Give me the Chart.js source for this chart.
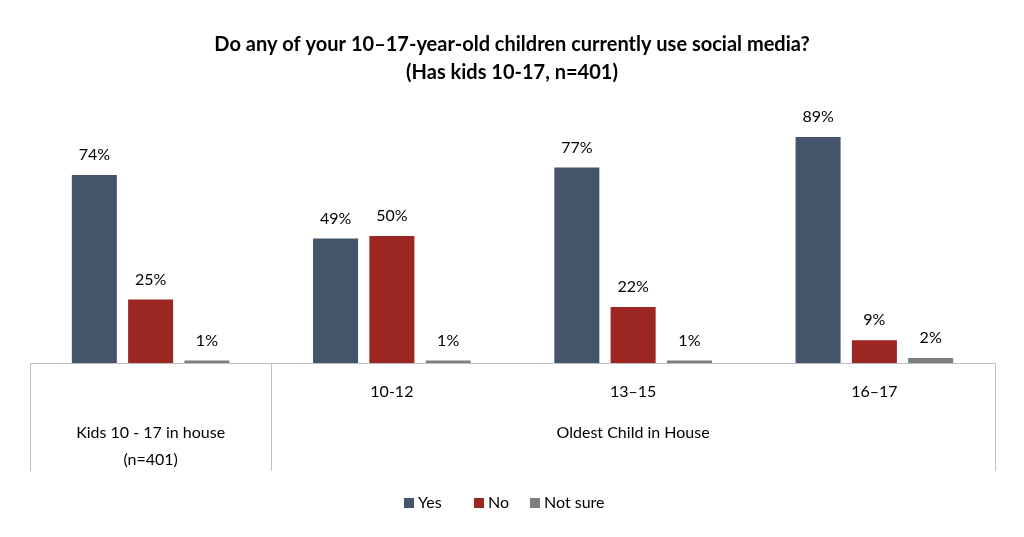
<!DOCTYPE html>
<html><head><meta charset="utf-8">
<script src="https://cdn.jsdelivr.net/npm/chart.js@4/dist/chart.umd.min.js"></script>
<style>html,body{margin:0;padding:0;background:#fff}#w{width:1024px;height:537px}</style>
</head><body><div id="w"><canvas id="c"></canvas></div>
<script>
const categories = ["Kids 10 - 17 in house\n(n=401)", "10-12", "13–15", "16–17"];
const yesValues = [74, 49, 77, 89];
const noValues = [25, 50, 22, 9];
const notSureValues = [1, 1, 1, 2];
const seriesNames = ["Yes", "No", "Not sure"];
const colors = ["#44546A", "#9B2622", "#7F7F7F"];
const FONT = "Lato, 'Open Sans', sans-serif";

const deco = {
  id: 'deco',
  afterDraw(chart) {
    const ctx = chart.ctx, a = chart.chartArea, x = chart.scales.x;
    ctx.save();
    // title
    ctx.fillStyle = '#000'; ctx.textAlign = 'center'; ctx.textBaseline = 'middle';
    ctx.font = 'bold 20px ' + FONT;
    ctx.fillText('Do any of your 10–17-year-old children currently use social media?', 512, 45);
    ctx.fillText('(Has kids 10-17, n=401)', 512, 73);
    // value labels
    ctx.font = '16px ' + FONT;
    chart.data.datasets.forEach((ds, i) => {
      chart.getDatasetMeta(i).data.forEach((b, j) => {
        ctx.fillText(ds.data[j] + '%', b.x, b.y - 20);
      });
    });
    // axis box
    ctx.strokeStyle = '#BFBFBF'; ctx.lineWidth = 1;
    const half = (x.getPixelForValue(1) - x.getPixelForValue(0)) / 2;
    const b0 = x.getPixelForValue(0) - half, b1 = x.getPixelForValue(0) + half, b2 = x.getPixelForValue(3) + half;
    ctx.beginPath();
    ctx.moveTo(a.left, a.bottom + 0.5); ctx.lineTo(a.right, a.bottom + 0.5);
    [b0, b1, b2].forEach(p => { ctx.moveTo(Math.round(p) + 0.5, a.bottom); ctx.lineTo(Math.round(p) + 0.5, a.bottom + 108); });
    ctx.stroke();
    // category labels
    ctx.fillStyle = '#000'; ctx.font = '16px ' + FONT;
    for (let j = 1; j < 4; j++) ctx.fillText(categories[j], x.getPixelForValue(j), a.bottom + 29);
    const l0 = categories[0].split('\n');
    ctx.fillText(l0[0], x.getPixelForValue(0), a.bottom + 70);
    ctx.fillText(l0[1], x.getPixelForValue(0), a.bottom + 97);
    ctx.fillText('Oldest Child in House', (b1 + b2) / 2, a.bottom + 70);
    // legend
    const items = [[404, 0], [474, 1], [530, 2]];
    ctx.textAlign = 'left';
    items.forEach(([lx, i]) => {
      ctx.fillStyle = colors[i]; ctx.fillRect(lx, 498, 10, 10);
      ctx.fillStyle = '#000'; ctx.fillText(seriesNames[i], lx + 14, 503);
    });
    ctx.restore();
  }
};

new Chart(document.getElementById('c'), {
  type: 'bar',
  data: {
    labels: categories,
    datasets: [
      { label: seriesNames[0], data: yesValues, backgroundColor: colors[0] },
      { label: seriesNames[1], data: noValues, backgroundColor: colors[1] },
      { label: seriesNames[2], data: notSureValues, backgroundColor: colors[2] }
    ]
  },
  options: {
    responsive: true, maintainAspectRatio: false, animation: false,
    layout: { padding: { top: 109, bottom: 174, left: 30, right: 29 } },
    datasets: { bar: { categoryPercentage: 0.7, barPercentage: 0.8 } },
    scales: {
      x: { display: false },
      y: { display: false, min: 0, max: 100 }
    },
    plugins: { legend: { display: false }, tooltip: { enabled: false } }
  },
  plugins: [deco]
});
</script></body></html>
